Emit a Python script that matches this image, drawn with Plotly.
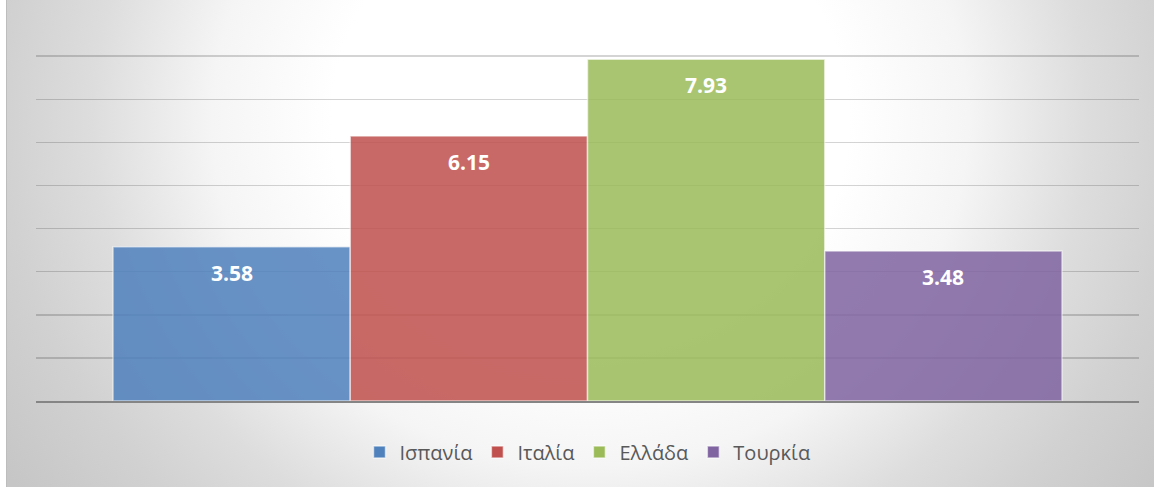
import base64
import plotly.graph_objects as go

# ---- data ----
countries = ["Ισπανία", "Ιταλία", "Ελλάδα", "Τουρκία"]
values = [3.58, 6.15, 7.93, 3.48]
colors = ["#4F81BD", "#C0504D", "#9BBB59", "#8064A2"]

W, H = 1154, 487
L, R, T, B = 36, 15, 13, 86
pw, ph = W - L - R, H - T - B

svg = f"""<svg xmlns='http://www.w3.org/2000/svg' width='{W}' height='{H}' viewBox='0 0 {W} {H}' preserveAspectRatio='none'>
<defs><radialGradient id='g' gradientUnits='userSpaceOnUse' cx='0' cy='0' r='1' gradientTransform='translate(590 120) scale(700 640)'>
<stop offset='0.37' stop-color='#ffffff'/>
<stop offset='0.54' stop-color='#f5f5f5'/>
<stop offset='0.71' stop-color='#dddddd'/>
<stop offset='0.84' stop-color='#d1d1d1'/>
<stop offset='1.0' stop-color='#c6c6c6'/>
</radialGradient></defs>
<rect width='{W}' height='{H}' fill='#ffffff'/>
<rect x='6' y='0' width='{W-6}' height='{H}' fill='url(#g)'/>
<line x1='6.5' y1='0' x2='6.5' y2='{H}' stroke='#bdbdbd' stroke-width='1'/>
</svg>"""
src = "data:image/svg+xml;base64," + base64.b64encode(svg.encode("utf-8")).decode("ascii")

fig = go.Figure()
for c, v, col in zip(countries, values, colors):
    fig.add_trace(go.Bar(
        x=[c], y=[v], name=c, width=1,
        marker=dict(color=col, opacity=0.85,
                    line=dict(color="rgba(255,255,255,0.6)", width=1.5)),
        hoverinfo="skip",
    ))
    fig.add_annotation(
        x=c, y=v, yshift=-26, text=f"{v:.2f}", showarrow=False,
        font=dict(family="Open Sans", size=21, color="white", weight="bold"),
    )

fig.update_layout(
    width=W, height=H,
    margin=dict(l=L, r=R, t=T, b=B, pad=0),
    paper_bgcolor="white",
    plot_bgcolor="rgba(0,0,0,0)",
    barmode="overlay",
    showlegend=True,
    legend=dict(
        orientation="h", x=0.5, xanchor="center",
        y=(401 - 452) / ph, yanchor="middle",
        font=dict(family="Open Sans", size=20, color="#595959"),
        bgcolor="rgba(0,0,0,0)", traceorder="normal",
        itemwidth=30,
    ),
    images=[dict(
        source=src, xref="paper", yref="paper",
        x=-L / pw, y=1 + T / ph, sizex=W / pw, sizey=H / ph,
        xanchor="left", yanchor="top", sizing="stretch", layer="below",
    )],
    xaxis=dict(
        type="category", categoryorder="array", categoryarray=countries,
        range=[-0.8245, 3.8245], showticklabels=False, showgrid=False,
        showline=True, linecolor="#858585", linewidth=1.5, ticks="",
        fixedrange=True,
    ),
    yaxis=dict(
        range=[0, 9.001], dtick=1, showticklabels=False,
        showgrid=True, gridcolor="rgba(0,0,0,0.17)", gridwidth=1.5,
        zeroline=False, showline=False, ticks="", fixedrange=True,
    ),
)

fig.write_html(
    "out.html",
    config={"displayModeBar": False, "staticPlot": True},
    post_script="document.body.style.margin='0';document.body.style.padding='0';document.body.style.overflow='hidden';",
)
